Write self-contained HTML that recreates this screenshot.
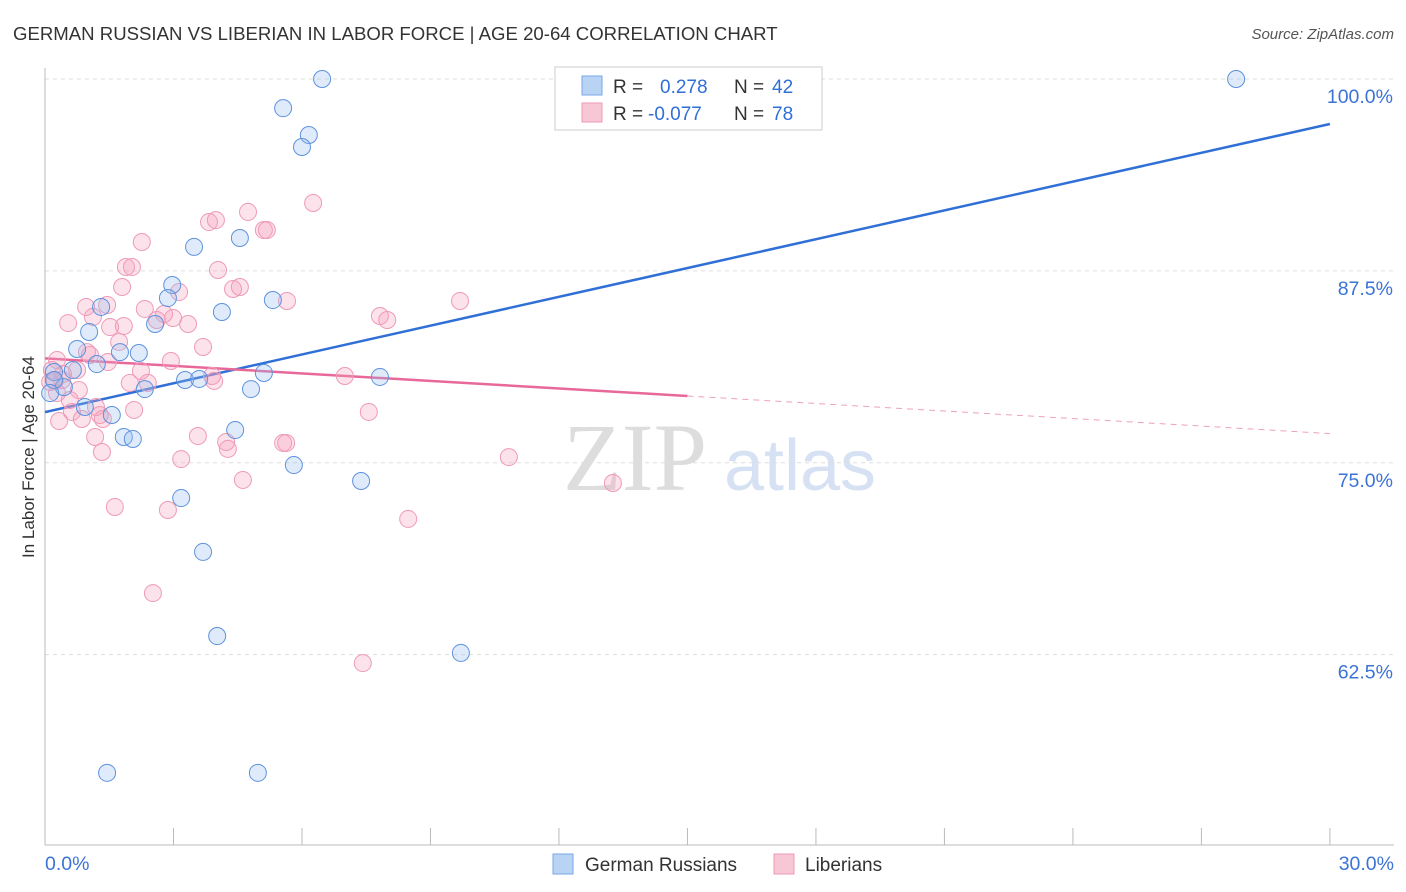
<!DOCTYPE html>
<html><head><meta charset="utf-8">
<style>
body{margin:0;background:#fff;font-family:"Liberation Sans",sans-serif;}
svg{display:block}
</style></head>
<body>
<svg id="chart" width="1406" height="892" xmlns="http://www.w3.org/2000/svg">
<text x="13" y="40" font-size="18.6" fill="#333" font-family="Liberation Sans, sans-serif">GERMAN RUSSIAN VS LIBERIAN IN LABOR FORCE | AGE 20-64 CORRELATION CHART</text>
<text x="1394" y="39" font-size="15" fill="#555" text-anchor="end" font-style="italic">Source: ZipAtlas.com</text>
<text transform="translate(34,457) rotate(-90)" font-size="17" fill="#333" text-anchor="middle">In Labor Force | Age 20-64</text>
<g>
<text x="635" y="490" font-size="96" fill="#ddd" text-anchor="middle" font-family="Liberation Serif, serif">ZIP</text>
<text x="800" y="490" font-size="72" fill="#d6e2f3" text-anchor="middle">atlas</text>
</g>
<g id="grid"></g>
<g id="axes"></g>
<g id="lines"></g>
<g id="pts"></g>
<g>
<rect x="555" y="67" width="267" height="63" fill="#fff" stroke="#ccc"/>
<rect x="582" y="76" width="20" height="19" fill="#b9d3f5" stroke="#7aa6e6"/>
<rect x="582" y="103" width="20" height="19" fill="#f8c7d6" stroke="#ee9ab5"/>
<text x="613" y="93" font-size="19" fill="#333">R = </text><text x="660" y="93" font-size="19" fill="#2f6fd6">0.278</text>
<text x="734" y="93" font-size="19" fill="#333">N = </text><text x="772" y="93" font-size="19" fill="#2f6fd6">42</text>
<text x="613" y="120" font-size="19" fill="#333">R = </text><text x="648" y="120" font-size="19" fill="#2f6fd6">-0.077</text>
<text x="734" y="120" font-size="19" fill="#333">N = </text><text x="772" y="120" font-size="19" fill="#2f6fd6">78</text>
</g>
<g>
<rect x="553" y="854" width="20" height="20" fill="#b9d3f5" stroke="#7aa6e6"/>
<text x="585" y="871" font-size="19" fill="#333">German Russians</text>
<rect x="774" y="854" width="20" height="20" fill="#f8c7d6" stroke="#ee9ab5"/>
<text x="805" y="871" font-size="19" fill="#333">Liberians</text>
</g>
</svg>
<script>
const blueX=[6.47,27.81,5.56,6.16,6.0,4.55,3.48,2.97,2.87,5.32,4.13,2.57,1.31,1.03,0.75,1.75,2.19,1.21,0.65,0.21,0.44,2.33,3.27,3.6,5.11,4.81,7.82,0.93,1.56,1.84,2.05,4.44,5.81,7.38,3.18,3.69,4.02,9.71,1.45,4.97,0.21,0.12];
const blueY=[100,100,98.1,96.35,95.57,89.64,89.06,86.58,85.73,85.6,84.82,84.04,85.15,83.52,82.41,82.21,82.15,81.43,81.04,80.91,79.93,79.8,80.39,80.46,80.85,79.8,80.59,78.63,78.11,76.68,76.55,77.13,74.85,73.81,72.7,69.19,63.71,62.61,54.8,54.8,80.39,79.54];
const pinkX=[6.26,4.74,3.83,3.99,5.11,5.18,2.26,1.89,2.03,4.04,4.39,4.55,1.80,3.13,9.69,5.65,0.96,1.45,2.33,1.12,2.99,2.61,2.78,0.54,1.84,1.52,3.34,7.82,7.99,1.73,3.69,0.98,0.28,1.05,2.94,1.47,0.75,0.42,2.24,7.0,3.9,0.23,2.4,3.95,0.79,0.28,0.58,1.19,0.63,2.08,1.35,0.86,7.56,0.33,4.23,1.17,3.57,1.33,4.27,3.18,5.56,5.63,10.83,4.62,13.26,1.63,2.87,8.48,2.52,7.42,0.4,0.12,0.16,1.28,1.98];
const pinkY=[91.92,91.34,90.68,90.81,90.16,90.16,89.38,87.75,87.75,87.56,86.32,86.45,86.45,86.12,85.54,85.54,85.15,85.28,85.02,84.5,84.43,84.3,84.69,84.1,83.91,83.84,84.04,84.56,84.3,82.87,82.54,82.21,81.69,82.02,81.63,81.56,81.04,80.78,80.98,80.65,80.65,80.33,80.2,80.33,79.74,79.54,79.09,78.63,78.31,78.44,77.85,77.85,78.31,77.72,76.35,76.68,76.74,75.7,75.9,75.24,76.29,76.29,75.37,73.88,73.68,72.12,71.92,71.34,66.51,61.95,80.39,80.26,81.04,78.11,80.2];
const yTicks=[100,87.5,75,62.5];
const yTickLabels=["100.0%","87.5%","75.0%","62.5%"];
const xTicks=[0,3,6,9,12,15,18,21,24,27,30];
const blueFit=[78.3,97.07];
const pinkFit=[81.8,76.9];
const pinkSolidEnd=15;

const NS="http://www.w3.org/2000/svg";
const X=v=>45+v*42.83, Y=v=>79+(100-v)*15.35;
function mk(tag,attrs,parent){const e=document.createElementNS(NS,tag);for(const k in attrs)e.setAttribute(k,attrs[k]);document.getElementById(parent).appendChild(e);return e;}
yTicks.forEach((t,i)=>{
  const g=mk('line',{x1:45,x2:1394,y1:Y(t),y2:Y(t),stroke:'#ddd','stroke-dasharray':'4,4'},'grid');
  
  
  const l=mk('text',{x:1393,y:Y(t)+24,'font-size':19.5,fill:'#3b73d6','text-anchor':'end'},'grid');
  l.textContent=yTickLabels[i];
  
  
});
const ya=mk('line',{x1:45,x2:45,y1:68,y2:845,stroke:'#bbb'},'axes');


const xa=mk('line',{x1:45,x2:1394,y1:845,y2:845,stroke:'#bbb'},'axes');


xTicks.forEach(t=>{
  const tk=mk('line',{x1:X(t),x2:X(t),y1:828,y2:845,stroke:'#bbb'},'axes');
  
  
});
[[0,'0.0%','start',45],[30,'30.0%','end',1394]].forEach(a=>{
  const t=mk('text',{x:a[3],y:870,'font-size':19.5,fill:'#3b73d6','text-anchor':a[2]},'axes');
  t.textContent=a[1];
  
  
});
pinkX.forEach((x,i)=>{
  const c=mk('circle',{cx:X(x),cy:Y(pinkY[i]),r:8.5,fill:'rgba(244,160,190,0.3)',stroke:'#ef9ab6','stroke-width':1},'pts');
  
  
});
blueX.forEach((x,i)=>{
  const c=mk('circle',{cx:X(x),cy:Y(blueY[i]),r:8.5,fill:'rgba(150,190,240,0.3)',stroke:'#5e92de','stroke-width':1},'pts');
  
  
});
const bl=mk('line',{x1:X(0),y1:Y(blueFit[0]),x2:X(30),y2:Y(blueFit[1]),stroke:'#2f6fd6','stroke-width':2.5},'lines');


const pAt=x=>pinkFit[0]+(pinkFit[1]-pinkFit[0])*x/30;
const pl=mk('line',{x1:X(0),y1:Y(pinkFit[0]),x2:X(pinkSolidEnd),y2:Y(pAt(pinkSolidEnd)),stroke:'#e8689a','stroke-width':2.5},'lines');


const pd=mk('line',{x1:X(pinkSolidEnd),y1:Y(pAt(pinkSolidEnd)),x2:X(30),y2:Y(pinkFit[1]),stroke:'#eea0bb','stroke-width':1,'stroke-dasharray':'6,5'},'lines');


</script>
</body></html>
